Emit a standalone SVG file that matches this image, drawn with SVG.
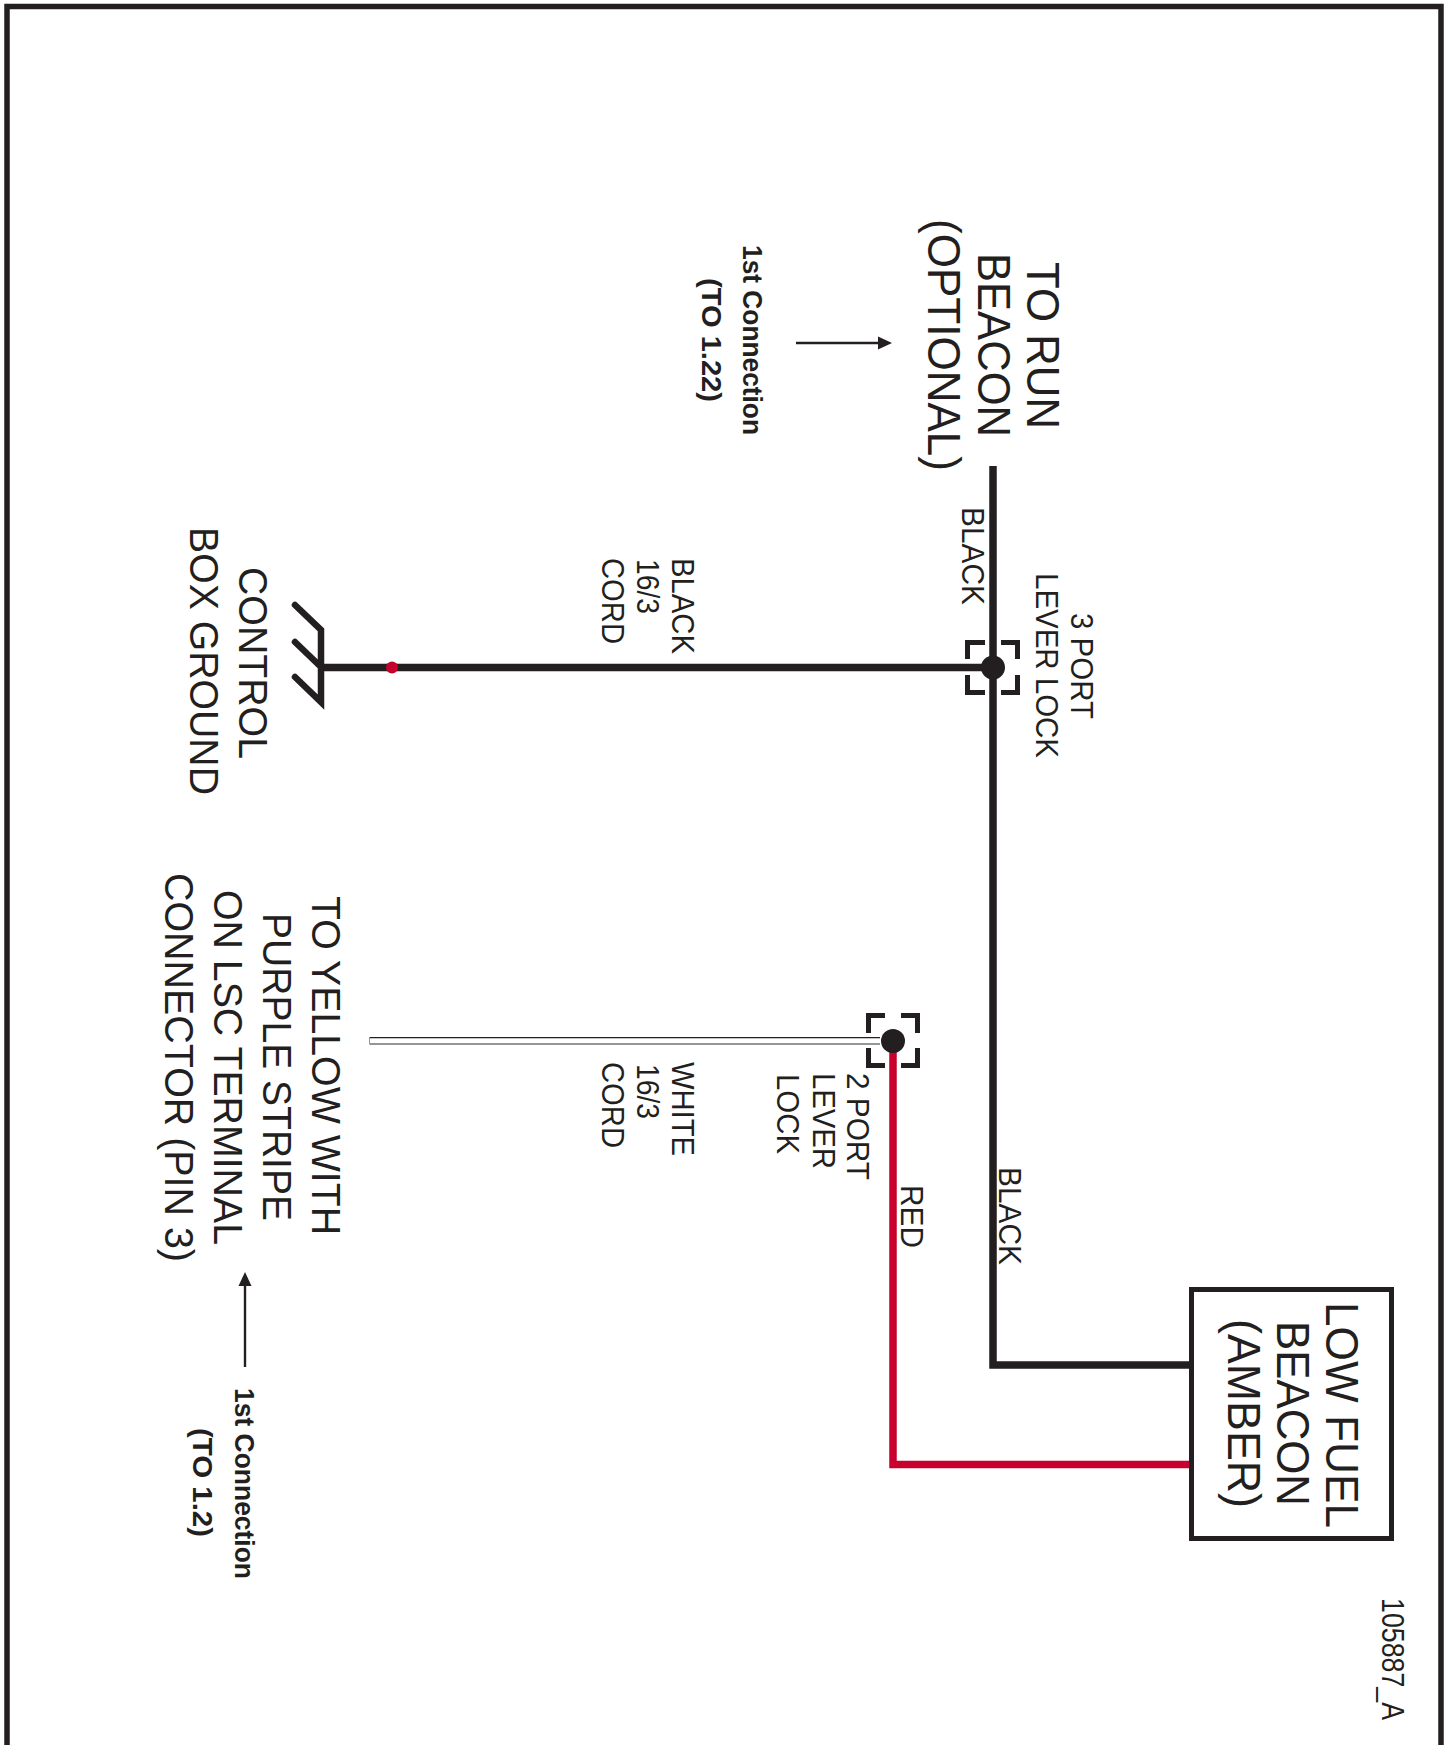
<svg xmlns="http://www.w3.org/2000/svg" width="1450" height="1745" viewBox="0 0 1450 1745">
<style>
text{font-family:"Liberation Sans",Arial,sans-serif;fill:#231f20}
.xl{font-size:46px}.l{font-size:41px}.m{font-size:31.500px}.b{font-size:28px;font-weight:bold}
.w{fill:none;stroke:#231f20;stroke-width:7.5}
.r{fill:none;stroke:#c8002d;stroke-width:7.5}
.br{fill:none;stroke:#231f20;stroke-width:5}
.a{fill:none;stroke:#231f20;stroke-width:2.4}
.d{fill:#231f20}
</style>
<rect x="0" y="0" width="1450" height="1745" fill="#fff"/>
<path id="frame" d="M7 1745V6.500H1441V1745" fill="none" stroke="#231f20" stroke-width="5.500"/>
<g id="connectors">
<path class="w" d="M993 466V1365H1190"/>
<path class="w" d="M321 667.500H993"/>
<path class="r" d="M893 1041V1464.500H1190"/>
<path d="M369.500 1037.700H880" fill="none" stroke="#231f20" stroke-width="1.300"/>
<path d="M369.500 1044H880" fill="none" stroke="#939598" stroke-width="2"/>
<path d="M369.500 1037.700V1044" fill="none" stroke="#939598" stroke-width="1"/>
<path class="a" d="M796 343H880"/>
<path class="d" d="M892 343L878 336.500V349.500Z"/>
<path class="a" d="M245 1367V1284"/>
<path class="d" d="M245 1272L238.500 1286H251.500Z"/>
</g>
<g id="junction-3port">
<path class="br" d="M985 642.500H967.500V659M1001 642.500H1017.500V659M985 692.500H967.500V675M1001 692.500H1017.500V675"/>
<circle class="d" cx="993" cy="667.500" r="12"/>
</g>
<g id="junction-2port">
<path class="br" d="M885 1015.500H868.500V1033M901 1015.500H917.500V1033M885 1065.500H868.500V1048M901 1065.500H917.500V1048"/>
<circle class="d" cx="893" cy="1041" r="12"/>
</g>
<g id="ground">
<path d="M295 605L321 630V702L295 677M295 642L321 667" fill="none" stroke="#231f20" stroke-width="6.500" stroke-linecap="round"/>
<circle cx="392" cy="667.500" r="6" fill="#c8002d"/>
</g>
<g id="beacon-box">
<rect x="1191.500" y="1289.500" width="200" height="249" fill="none" stroke="#231f20" stroke-width="5"/>
<text class="xl" transform="translate(1326 1302) rotate(90)" textLength="226" lengthAdjust="spacingAndGlyphs">LOW FUEL</text>
<text class="xl" transform="translate(1277 1321) rotate(90)" textLength="185" lengthAdjust="spacingAndGlyphs">BEACON</text>
<text class="xl" transform="translate(1228 1319) rotate(90)" textLength="189" lengthAdjust="spacingAndGlyphs">(AMBER)</text>
</g>
<g id="labels">
<text class="xl" transform="translate(1027 262) rotate(90)" textLength="167" lengthAdjust="spacingAndGlyphs">TO RUN</text>
<text class="xl" transform="translate(978 253) rotate(90)" textLength="184" lengthAdjust="spacingAndGlyphs">BEACON</text>
<text class="xl" transform="translate(928 219) rotate(90)" textLength="252" lengthAdjust="spacingAndGlyphs">(OPTIONAL)</text>
<text class="b" transform="translate(743 245) rotate(90)" textLength="190" lengthAdjust="spacingAndGlyphs">1st Connection</text>
<text class="b" transform="translate(702 278) rotate(90)" textLength="124" lengthAdjust="spacingAndGlyphs">(TO 1.22)</text>
<text class="m" transform="translate(962 507) rotate(90)" textLength="98" lengthAdjust="spacingAndGlyphs">BLACK</text>
<text class="m" transform="translate(1071 613) rotate(90)" textLength="106" lengthAdjust="spacingAndGlyphs">3 PORT</text>
<text class="m" transform="translate(1036 573) rotate(90)" textLength="185" lengthAdjust="spacingAndGlyphs">LEVER LOCK</text>
<text class="m" transform="translate(672 558) rotate(90)" textLength="96" lengthAdjust="spacingAndGlyphs">BLACK</text>
<text class="m" transform="translate(637 559) rotate(90)" textLength="55" lengthAdjust="spacingAndGlyphs">16/3</text>
<text class="m" transform="translate(602 558) rotate(90)" textLength="86" lengthAdjust="spacingAndGlyphs">CORD</text>
<text class="l" transform="translate(239 567) rotate(90)" textLength="192" lengthAdjust="spacingAndGlyphs">CONTROL</text>
<text class="l" transform="translate(190 527) rotate(90)" textLength="268" lengthAdjust="spacingAndGlyphs">BOX GROUND</text>
<text class="l" transform="translate(312 896) rotate(90)" textLength="339" lengthAdjust="spacingAndGlyphs">TO YELLOW WITH</text>
<text class="l" transform="translate(263 913) rotate(90)" textLength="308" lengthAdjust="spacingAndGlyphs">PURPLE STRIPE</text>
<text class="l" transform="translate(214 890) rotate(90)" textLength="355" lengthAdjust="spacingAndGlyphs">ON LSC TERMINAL</text>
<text class="l" transform="translate(165 873) rotate(90)" textLength="389" lengthAdjust="spacingAndGlyphs">CONNECTOR (PIN 3)</text>
<text class="b" transform="translate(235 1388) rotate(90)" textLength="191" lengthAdjust="spacingAndGlyphs">1st Connection</text>
<text class="b" transform="translate(193 1428) rotate(90)" textLength="109" lengthAdjust="spacingAndGlyphs">(TO 1.2)</text>
<text class="m" transform="translate(672 1062) rotate(90)" textLength="94" lengthAdjust="spacingAndGlyphs">WHITE</text>
<text class="m" transform="translate(637 1064) rotate(90)" textLength="55" lengthAdjust="spacingAndGlyphs">16/3</text>
<text class="m" transform="translate(602 1062) rotate(90)" textLength="86" lengthAdjust="spacingAndGlyphs">CORD</text>
<text class="m" transform="translate(847 1073) rotate(90)" textLength="107" lengthAdjust="spacingAndGlyphs">2 PORT</text>
<text class="m" transform="translate(813 1073) rotate(90)" textLength="96" lengthAdjust="spacingAndGlyphs">LEVER</text>
<text class="m" transform="translate(777 1074) rotate(90)" textLength="80" lengthAdjust="spacingAndGlyphs">LOCK</text>
<text class="m" transform="translate(901 1185) rotate(90)" textLength="63" lengthAdjust="spacingAndGlyphs">RED</text>
<text class="m" transform="translate(999 1167) rotate(90)" textLength="98" lengthAdjust="spacingAndGlyphs">BLACK</text>
<text class="m" transform="translate(1382 1598) rotate(90)" textLength="122" lengthAdjust="spacingAndGlyphs">105887_A</text>
</g>
</svg>
